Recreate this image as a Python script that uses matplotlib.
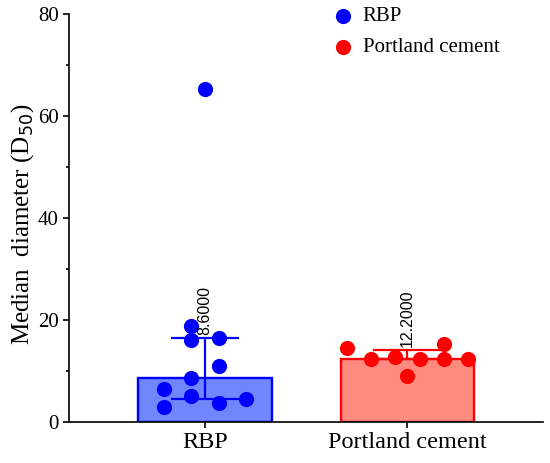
import numpy as np
import matplotlib.pyplot as plt
from matplotlib.ticker import MultipleLocator

groups = ["RBP", "Portland cement"]
medians = [8.6, 12.2]
q1 = [4.5, 12.2]
q3 = [16.4, 14.0]

# individual points (value, horizontal slot offset)
rbp_vals = [18.8, 16.0, 16.4, 10.9, 8.6, 6.4, 5.1, 4.5, 3.6, 2.8, 65.2]
rbp_slot = [-0.5, -0.5, 0.5, 0.5, -0.5, -1.5, -0.5, 1.5, 0.5, -1.5, 0.0]
pc_vals = [14.5, 12.2, 12.6, 8.9, 12.2, 15.3, 12.2, 12.2]
pc_slot = [-2.5, -1.5, -0.5, 0.0, 0.5, 1.5, 1.5, 2.5]

edge_cols = ["#0000FF", "#FF0000"]
fill_cols = ["#6F86FF", "#FF8A80"]

plt.rcParams['font.family'] = ['Liberation Serif', 'DejaVu Serif']

fig = plt.figure(figsize=(5.5, 4.63), dpi=100)
ax = fig.add_axes([0.1255, 0.0896, 0.9867 - 0.1255, 0.9698 - 0.0896])

x = np.arange(len(groups))
ax.bar(x, medians, width=0.66, color=fill_cols, edgecolor=edge_cols, linewidth=1.7, zorder=1)

for i in range(len(groups)):
    ax.errorbar(x[i], medians[i], yerr=[[medians[i] - q1[i]], [q3[i] - medians[i]]],
                color=edge_cols[i], capsize=24.5, elinewidth=1.6, capthick=1.6, zorder=2)
    ax.text(x[i], q3[i] + 0.6, "%.4f" % medians[i], rotation=90, ha='center', va='bottom',
            fontsize=11.5, family=['Liberation Sans', 'DejaVu Sans'], zorder=4)

step = 0.136
ax.scatter(x[0] + np.array(rbp_slot) * step, rbp_vals, s=120, color=edge_cols[0],
           zorder=3, label="RBP", linewidths=0)
ax.scatter(x[1] + np.array(pc_slot) * 0.12, pc_vals, s=120, color=edge_cols[1],
           zorder=3, label="Portland cement", linewidths=0)

ax.set_xlim(-0.672, 1.668)
ax.set_ylim(0, 80)
ax.yaxis.set_major_locator(MultipleLocator(20))
ax.yaxis.set_minor_locator(MultipleLocator(10))
ax.set_xticks(x)
ax.set_xticklabels(groups)
ax.tick_params(axis='both', labelsize=15, width=1.2, length=4)
ax.tick_params(axis='x', labelsize=17.5)
ax.tick_params(axis='y', which='minor', width=1.2, length=2.5)
ax.spines['top'].set_visible(False)
ax.spines['right'].set_visible(False)
ax.spines['left'].set_linewidth(1.2)
ax.spines['bottom'].set_linewidth(1.2)
ax.set_ylabel("Median  diameter (D$_{50}$)", fontsize=18)
ax.yaxis.set_label_coords(-0.07, 0.485)

ax.legend(loc='upper left', bbox_to_anchor=(0.557, 1.026), bbox_transform=fig.transFigure,
          frameon=False, fontsize=15, handlelength=1.7, handletextpad=0.1,
          labelspacing=0.55, markerscale=1.0)

fig.savefig("out.png", dpi=100)
